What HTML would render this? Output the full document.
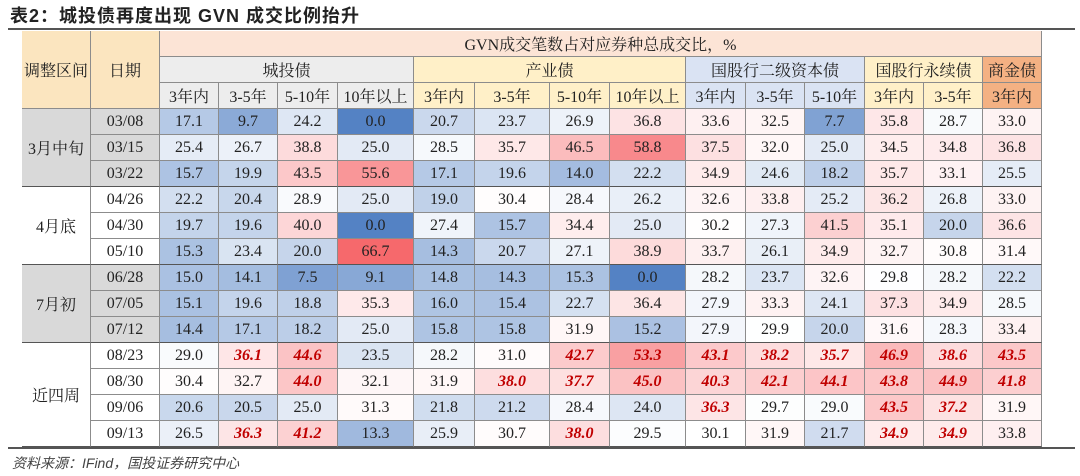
<!DOCTYPE html>
<html><head><meta charset="utf-8">
<style>
body{margin:0;width:1080px;height:476px;background:#fff;position:relative;overflow:hidden;font-family:"Liberation Serif","Noto Serif CJK SC",serif;}
.c{position:absolute;box-sizing:border-box;border-right:1px solid #8c8c8c;border-bottom:1px solid #8c8c8c;display:flex;align-items:center;justify-content:center;font-size:16px;color:#222;white-space:nowrap;}
.hl{position:absolute;background:#555;}
</style></head><body>
<div style="position:absolute;left:10px;top:2px;font-family:'Liberation Sans','Noto Sans CJK SC',sans-serif;font-weight:bold;font-size:18px;color:#222;letter-spacing:1px;">表2：城投债再度出现 GVN 成交比例抬升</div>
<div class="hl" style="left:8px;top:28px;width:1067px;height:2px;"></div>
<div class="hl" style="left:8px;top:447px;width:1067px;height:2px;"></div>
<div style="position:absolute;left:12px;top:453px;font-size:14px;font-style:italic;color:#444;font-family:'Liberation Sans','Noto Sans CJK SC',sans-serif;">资料来源：IFind，国投证券研究中心</div>
<div id="tbl"></div>
<script>
const dates=["03/08","03/15","03/22","04/26","04/30","05/10","06/28","07/05","07/12","08/23","08/30","09/06","09/13"];
const groups=["3月中旬","4月底","7月初","近四周"];
const groupSizes=[3,3,3,4];
const bondTypes=["城投债","产业债","国股行二级资本债","国股行永续债","商金债"];
const bondSpans=[4,4,3,2,1];
const tenors=["3年内","3-5年","5-10年","10年以上","3年内","3-5年","5-10年","10年以上","3年内","3-5年","5-10年","3年内","3-5年","3年内"];
const values=[
[17.1,9.7,24.2,0.0,20.7,23.7,26.9,36.8,33.6,32.5,7.7,35.8,28.7,33.0],
[25.4,26.7,38.8,25.0,28.5,35.7,46.5,58.8,37.5,32.0,25.0,34.5,34.8,36.8],
[15.7,19.9,43.5,55.6,17.1,19.6,14.0,22.2,34.9,24.6,18.2,35.7,33.1,25.5],
[22.2,20.4,28.9,25.0,19.0,30.4,28.4,26.2,32.6,33.8,25.2,36.2,26.8,33.0],
[19.7,19.6,40.0,0.0,27.4,15.7,34.4,25.0,30.2,27.3,41.5,35.1,20.0,36.6],
[15.3,23.4,20.0,66.7,14.3,20.7,27.1,38.9,33.7,26.1,34.9,32.7,30.8,31.4],
[15.0,14.1,7.5,9.1,14.8,14.3,15.3,0.0,28.2,23.7,32.6,29.8,28.2,22.2],
[15.1,19.6,18.8,35.3,16.0,15.4,22.7,36.4,27.9,33.3,24.1,37.3,34.9,28.5],
[14.4,17.1,18.2,25.0,15.8,15.8,31.9,15.2,27.9,29.9,20.0,31.6,28.3,33.4],
[29.0,36.1,44.6,23.5,28.2,31.0,42.7,53.3,43.1,38.2,35.7,46.9,38.6,43.5],
[30.4,32.7,44.0,32.1,31.9,38.0,37.7,45.0,40.3,42.1,44.1,43.8,44.9,41.8],
[20.6,20.5,25.0,31.3,21.8,21.2,28.4,24.0,36.3,29.7,29.0,43.5,37.2,31.9],
[26.5,36.3,41.2,13.3,25.9,30.7,38.0,29.5,30.1,31.9,21.7,34.9,34.9,33.8]];
const highlights=[
[0,0,0,0,0,0,0,0,0,0,0,0,0,0],[0,0,0,0,0,0,0,0,0,0,0,0,0,0],[0,0,0,0,0,0,0,0,0,0,0,0,0,0],
[0,0,0,0,0,0,0,0,0,0,0,0,0,0],[0,0,0,0,0,0,0,0,0,0,0,0,0,0],[0,0,0,0,0,0,0,0,0,0,0,0,0,0],
[0,0,0,0,0,0,0,0,0,0,0,0,0,0],[0,0,0,0,0,0,0,0,0,0,0,0,0,0],[0,0,0,0,0,0,0,0,0,0,0,0,0,0],
[0,1,1,0,0,0,1,1,1,1,1,1,1,1],[0,0,1,0,0,1,1,1,1,1,1,1,1,1],[0,0,0,0,0,0,0,0,1,0,0,1,1,0],[0,1,1,0,0,0,1,0,0,0,0,1,1,0]];

const tbl=document.getElementById('tbl');
const xs=[22,91,160,219,278,338,414,475,550,610,686,746,805,865,924,983,1042];
const Y0=109,RH=26;
const typeBg=["#ededed","#fff0c8","#dae3f3","#fff0c8","#f4b183"];
function cell(x,y,w,h,txt,bg,name,extra){
  const d=document.createElement('div');
  d.className='c';
  d.style.cssText+=`left:${x}px;top:${y}px;width:${w}px;height:${h}px;background:${bg};`+(extra||'');
  d.textContent=txt;
  
  
  tbl.appendChild(d);return d;
}
function color(v){
  const mid=30,lo=0,hi=66.7;
  if(v<=mid){const t=(mid-v)/(mid-lo);return `rgb(${Math.round(255-(255-84)*t)},${Math.round(255-(255-130)*t)},${Math.round(255-(255-196)*t)})`;}
  const t=Math.min(1,(v-mid)/(hi-mid));
  return `rgb(${Math.round(255-(255-246)*t)},${Math.round(255-(255-105)*t)},${Math.round(255-(255-108)*t)})`;
}
cell(22,31,69,78,"调整区间","#fbe5bf","header-period");
cell(91,31,69,78,"日期","#fbe5bf","header-date");
cell(160,31,882,26,"GVN成交笔数占对应券种总成交比，%","#fce4d6","header-gvn-ratio");
let ci=0;
bondTypes.forEach((b,i)=>{
  const x=xs[2+ci],w=xs[2+ci+bondSpans[i]]-x;
  cell(x,57,w,26,b,typeBg[i],"header-"+["chengtou","industrial","bank-tier2","bank-perpetual","commercial-finance"][i]);
  for(let k=0;k<bondSpans[i];k++){
    const j=ci+k;
    cell(xs[2+j],83,xs[3+j]-xs[2+j],26,tenors[j],typeBg[i],"header-tenor");
  }
  ci+=bondSpans[i];
});
let r=0;
groups.forEach((g,gi)=>{
  const bg=(gi%2==0)?"#d9d9d9":"#ffffff";
  cell(22,Y0+r*RH,69,RH*groupSizes[gi],g,bg,"group-label","border-bottom:1px solid #555;");
  for(let k=0;k<groupSizes[gi];k++){
    const rr=r+k;
    cell(91,Y0+rr*RH,69,RH,dates[rr],bg,"date-label",k==groupSizes[gi]-1?"border-bottom:1px solid #555;":"");
    values[rr].forEach((v,j)=>{
      const hl=highlights[rr][j];
      cell(xs[2+j],Y0+rr*RH,xs[3+j]-xs[2+j],RH,v.toFixed(1),color(v),"heat-cell",
        (hl?"color:#c00000;font-weight:bold;font-style:italic;":"")+(k==groupSizes[gi]-1?"border-bottom:1px solid #555;":""));
    });
  }
  r+=groupSizes[gi];
});
</script>
</body></html>
